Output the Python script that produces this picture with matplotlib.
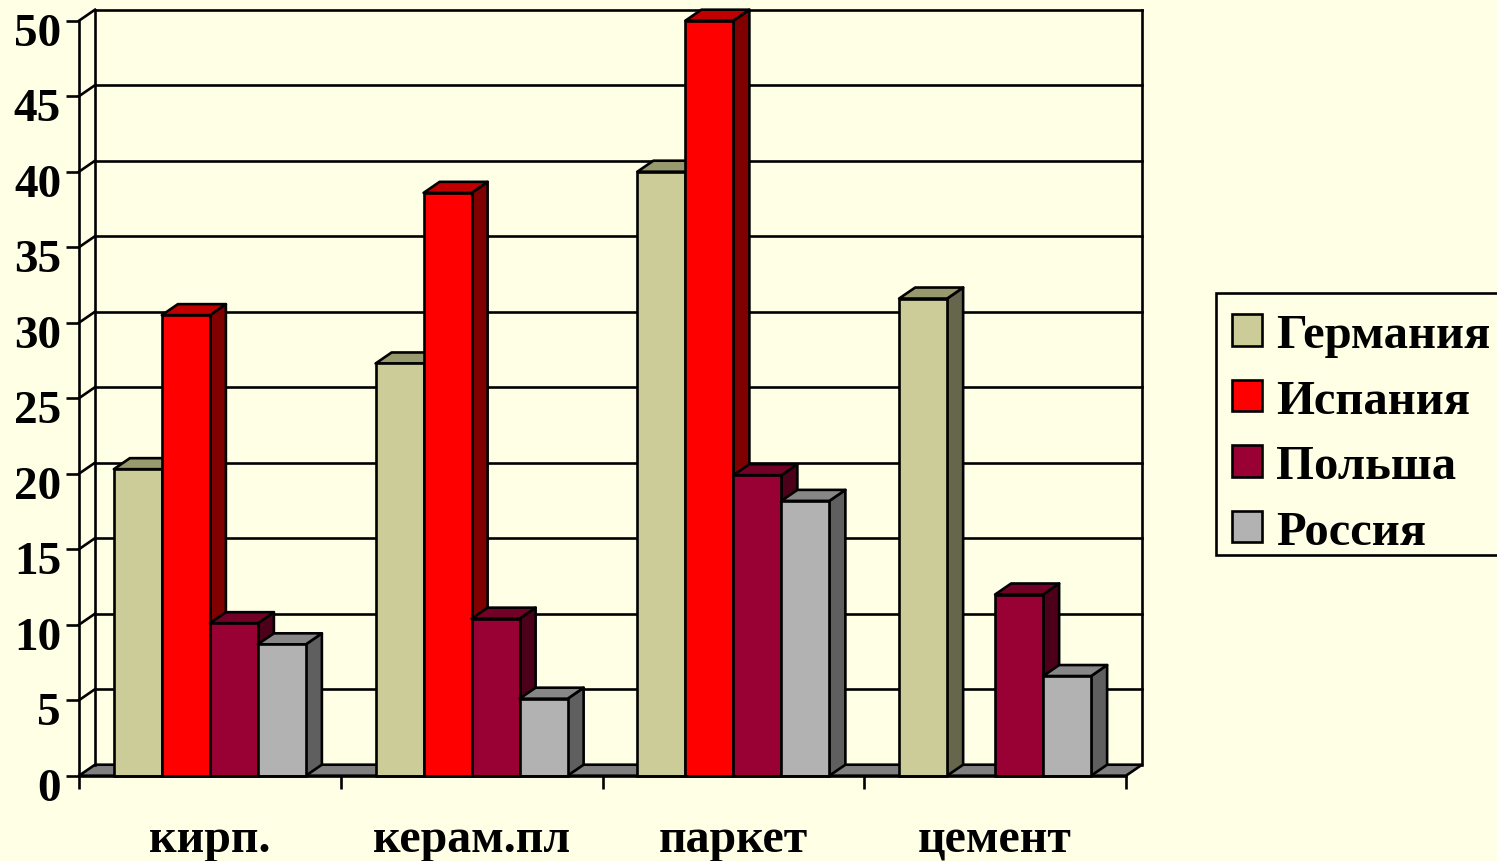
import matplotlib
matplotlib.use("Agg")
import matplotlib.pyplot as plt
from matplotlib.patches import Polygon, Patch, Rectangle
from matplotlib.transforms import ScaledTranslation

categories = ["кирп.", "керам.пл", "паркет", "цемент"]
series_names = ["Германия", "Испания", "Польша", "Россия"]
germany = [20.3, 27.3, 40.0, 31.6]
spain = [30.5, 38.6, 50.0, 0.0]
poland = [10.1, 10.4, 19.9, 12.0]
russia = [8.7, 5.1, 18.2, 6.6]
series = [germany, spain, poland, russia]
yticks = list(range(0, 55, 5))

front = ["#CCCC99", "#FF0000", "#990033", "#B2B2B2"]
top = ["#99996E", "#C00000", "#730026", "#878787"]
side = ["#66664C", "#800000", "#4D001A", "#5F5F5F"]
BG = "#FFFFE5"
FONT = "Liberation Serif"
LW = 1.9

W, H = 1497, 862
fig = plt.figure(figsize=(W / 100, H / 100), dpi=100, facecolor=BG)
ax = fig.add_axes([79 / W, (H - 776.7) / H, 1047 / W, 755 / H], facecolor="none")
ax.set_xlim(0, 4)
ax.set_ylim(0, 50)

DX = 16 / (1047 / 4)
DY = 11 / (755 / 50)
BW = 48 / (1047 / 4)
common = dict(clip_on=False, edgecolor="black", linewidth=LW, joinstyle="round")

# floor and back wall
ax.add_patch(Polygon([(0, 0), (4, 0), (4 + DX, DY), (DX, DY)], facecolor="#808080", zorder=1, **common))
for y in yticks[1:]:
    ax.plot([DX, 4 + DX], [y + DY, y + DY], color="black", lw=LW, clip_on=False, zorder=1)
    ax.plot([0, DX], [y, y + DY], color="black", lw=LW, clip_on=False, zorder=1)
for x in (DX, 4 + DX):
    ax.plot([x, x], [DY, 50 + DY], color="black", lw=LW, clip_on=False, zorder=1)

# bars with side and top faces
z = 3
for c in range(len(categories)):
    left = c + (1 - BW * len(series)) / 2
    for s, vals in enumerate(series):
        v = vals[c]
        if v <= 0:
            continue
        x0 = left + s * BW
        x1 = x0 + BW
        ax.add_patch(Polygon([(x1, 0), (x1 + DX, DY), (x1 + DX, v + DY), (x1, v)], facecolor=side[s], zorder=z, **common))
        ax.add_patch(Polygon([(x0, v), (x1, v), (x1 + DX, v + DY), (x0 + DX, v + DY)], facecolor=top[s], zorder=z, **common))
        ax.bar(x0, v, width=BW, align="edge", color=front[s], edgecolor="black", linewidth=LW, zorder=z, clip_on=False)
        z += 1

# axes
for name in ("top", "right"):
    ax.spines[name].set_visible(False)
for name in ("left", "bottom"):
    ax.spines[name].set_linewidth(LW)
    ax.spines[name].set_zorder(50)

ax.set_yticks(yticks)
ax.set_yticklabels([str(t) for t in yticks], fontfamily=FONT, fontweight="bold", fontsize=34)
ax.tick_params(axis="y", length=9.4, width=LW, pad=3.5)
shift = ScaledTranslation(0, -8 / 100, fig.dpi_scale_trans)
for lab in ax.get_yticklabels():
    lab.set_transform(lab.get_transform() + shift)

ax.set_xticks([0, 1, 2, 3, 4])
ax.set_xticklabels([])
ax.set_xticks([0.5, 1.5, 2.5, 3.5], minor=True)
ax.set_xticklabels(categories, minor=True, fontfamily=FONT, fontweight="bold", fontsize=34.5)
ax.tick_params(axis="x", which="major", length=9.4, width=LW)
ax.tick_params(axis="x", which="minor", length=0, pad=30)

# legend frame runs past the right edge of the figure, as in the reference
fig.add_artist(Rectangle((1216 / W, (H - 556) / H), 290 / W, 262 / H, transform=fig.transFigure,
                         facecolor=BG, edgecolor="black", linewidth=LW, clip_on=False))
handles = [Patch(facecolor=f, edgecolor="black", linewidth=LW) for f in front]
leg = fig.legend(
    handles, series_names,
    loc="upper left", bbox_to_anchor=(1232 / W, (H - 314) / H),
    frameon=False,
    prop={"family": FONT, "weight": "bold", "size": 35},
    handlelength=0.62, handleheight=0.62, handletextpad=0.29,
    labelspacing=0.444, borderpad=0, borderaxespad=0,
)
leg.set_zorder(10)

fig.savefig("out.png", dpi=100, facecolor=BG)
